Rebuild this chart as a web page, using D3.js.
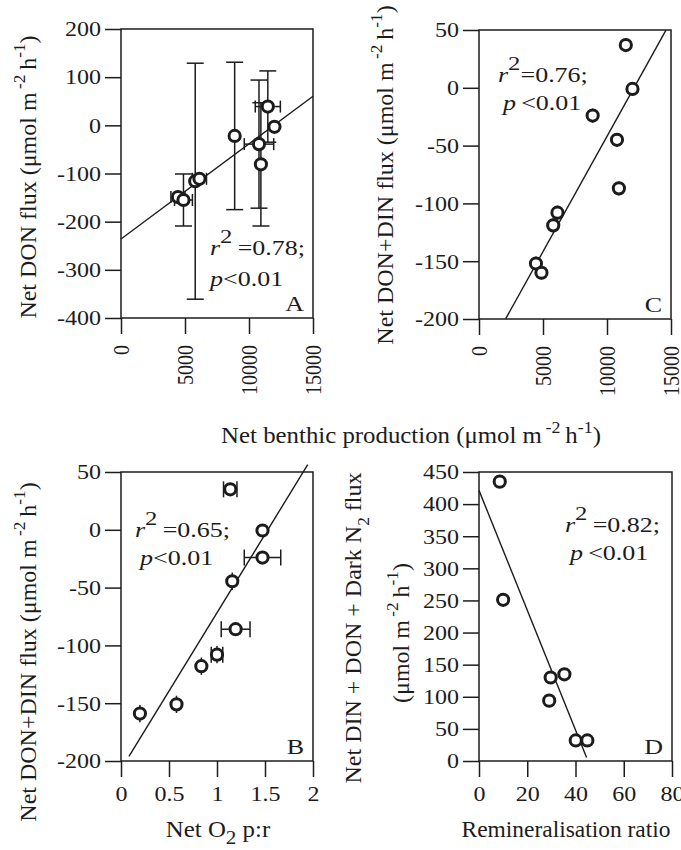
<!DOCTYPE html>
<html><head><meta charset="utf-8">
<script src="https://cdn.jsdelivr.net/npm/d3@7"></script>
<style>
body{margin:0;background:#fff}
svg{display:block}
text{font-family:"Liberation Serif","Times New Roman",Times,serif}
</style>
</head><body>
<svg id="c" width="681" height="850"></svg>
<script>
// ---------------- data ----------------
// shared x: net benthic production (umol m-2 h-1)
const prodX      = [4450, 4880, 5800, 6130, 8880, 10780, 10930, 11470, 11990];
const prodXErr   = [550, 700, 0, 550, 0, 1150, 0, 980, 0];
// panel A: net DON flux
const donFlux    = [-149, -155, -116, -111, -22, -39, -81, 39, -3];
const donFluxErr = [0, 54, 245, 0, 153, 133, 128, 74, 0];
// panel C: net DON+DIN flux
const donDinC    = [-152, -160, -119, -108, -24, -45, -87, 37, -1];
const donDinCErr = [6, 6, 6, 6, 6, 6, 6, 6, 6];
// panel B: net O2 p:r vs net DON+DIN flux
const o2PR       = [0.197, 0.578, 0.837, 1.0, 1.474, 1.159, 1.194, 1.138, 1.474];
const o2PRErr    = [0, 0, 0, 0.06, 0.19, 0, 0.15, 0.07, 0];
const donDinB    = [-159, -151, -118, -108, -24, -44.5, -86, 35, -0.6];
const donDinBErr = [7.5, 7.5, 7.5, 7.5, 0, 7.5, 0, 0, 0];
// panel D: remineralisation ratio vs net DIN + DON + dark N2 flux
const reminRatio = [8.6, 10.0, 29.7, 35.4, 29.1, 40.1, 44.9];
const dinDonN2   = [435, 251, 130, 135, 94, 32, 32];

// regression lines: [slope, intercept, xStart, xEnd]
const fitA = [0.01975, -236, 0, 15000];
const fitC = [0.01994, -241.4, 2091, 14608];
const fitB = [135.5, -207.2, 0.083, 1.945];
const fitD = [-9.33, 421.4, 0, 44.6];

// statistics text
const statsA = ["0.78", "0.01"];
const statsC = ["0.76", "0.01"];
const statsB = ["0.65", "0.01"];
const statsD = ["0.82", "0.01"];

// ticks
const prodTicks   = [0, 5000, 10000, 15000];
const donTicksA   = [200, 100, 0, -100, -200, -300, -400];
const donDinTicks = [50, 0, -50, -100, -150, -200];
const prTicks     = [0, 0.5, 1, 1.5, 2];
const reminTicks  = [0, 20, 40, 60, 80];
const n2Ticks     = [0, 50, 100, 150, 200, 250, 300, 350, 400, 450];

// ---------------- drawing ----------------
const svg = d3.select('#c');
const INK = '#1c1c1c';
const TICK = 16;
const SX_TICK = 1.2, SX_ANN = 1.3, SX_TITLE = 1.08;

function rich(parent, x, y, parts, o) {
  let tr = `translate(${x},${y})`;
  if (o.sx) tr += ` scale(${o.sx},1)`;
  if (o.rotate) tr += ` rotate(${o.rotate})`;
  const g = parent.append('g').attr('transform', tr);
  const t = g.append('text').attr('font-size', o.size).attr('fill', INK)
    .attr('text-anchor', o.anchor || 'start');
  let shift = 0;
  parts.forEach(p => {
    const ts = t.append('tspan').text(p.t);
    const target = p.sup ? -o.size * (p.up || 0.45) : p.sub ? o.size * 0.32 : 0;
    ts.attr('dy', target - shift);
    shift = target;
    if (p.italic) ts.attr('font-style', 'italic');
    if (p.sup || p.sub) ts.attr('font-size', o.size * (p.scale || 0.72));
  });
  return g;
}

function panel(o) {
  const g = svg.append('g').attr('transform', `translate(${o.left},${o.top})`);
  const x = d3.scaleLinear().domain(o.xDomain).range([0, o.w]);
  const y = d3.scaleLinear().domain(o.yDomain).range([o.h, 0]);

  const ya = g.append('g')
    .call(d3.axisLeft(y).tickValues(o.yTicks).tickSize(TICK).tickSizeOuter(0).tickFormat(d => String(d)));
  ya.attr('font-family', null).attr('font-size', null).style('color', INK);
  ya.select('.domain').remove();
  ya.selectAll('.tick line').attr('stroke-width', 1.5);
  ya.selectAll('.tick text').attr('x', 0).attr('dy', '0.34em').attr('font-size', 20)
    .attr('transform', `translate(${-(TICK + 4)},0) scale(${SX_TICK},1)`);

  const xa = g.append('g').attr('transform', `translate(0,${o.h})`)
    .call(d3.axisBottom(x).tickValues(o.xTicks).tickSize(TICK).tickSizeOuter(0).tickFormat(d => String(d)));
  xa.attr('font-family', null).attr('font-size', null).style('color', INK);
  xa.select('.domain').remove();
  xa.selectAll('.tick line').attr('stroke-width', 1.5);
  if (o.rotX) {
    xa.selectAll('.tick text').attr('x', 0).attr('y', 0).attr('dy', '0.32em')
      .attr('text-anchor', 'end').attr('font-size', 20)
      .attr('transform', `translate(0,${TICK + 11}) scale(${SX_TICK},1) rotate(-90)`);
  } else {
    xa.selectAll('.tick text').attr('y', 0).attr('dy', '0.71em').attr('font-size', 20)
      .attr('transform', `translate(0,${TICK + 10}) scale(${SX_TICK},1)`);
  }

  g.append('rect').attr('width', o.w).attr('height', o.h)
    .attr('fill', 'none').attr('stroke', INK).attr('stroke-width', 1.5);

  // regression line
  const f = o.fit;
  g.append('line')
    .attr('x1', x(f[2])).attr('y1', y(f[0] * f[2] + f[1]))
    .attr('x2', x(f[3])).attr('y2', y(f[0] * f[3] + f[1]))
    .attr('stroke', INK).attr('stroke-width', 1.4);

  // error bars
  const eb = g.append('g').attr('stroke', INK).attr('stroke-width', 1.5);
  o.xs.forEach((xv, i) => {
    const yv = o.ys[i];
    const ye = o.yErr ? o.yErr[i] : 0;
    const xe = o.xErr ? o.xErr[i] : 0;
    if (ye > 0) {
      eb.append('line').attr('x1', x(xv)).attr('x2', x(xv)).attr('y1', y(yv - ye)).attr('y2', y(yv + ye));
      if (o.capY) {
        [yv - ye, yv + ye].forEach(v => eb.append('line')
          .attr('x1', x(xv) - o.capY).attr('x2', x(xv) + o.capY).attr('y1', y(v)).attr('y2', y(v)));
      }
    }
    if (xe > 0) {
      eb.append('line').attr('y1', y(yv)).attr('y2', y(yv)).attr('x1', x(xv - xe)).attr('x2', x(xv + xe));
      [xv - xe, xv + xe].forEach(v => eb.append('line')
        .attr('y1', y(yv) - o.capX).attr('y2', y(yv) + o.capX).attr('x1', x(v)).attr('x2', x(v)));
    }
  });

  // points
  g.append('g').selectAll('circle').data(o.xs).join('circle')
    .attr('cx', d => x(d)).attr('cy', (d, i) => y(o.ys[i])).attr('r', 5.6)
    .attr('fill', '#fff').attr('stroke', INK).attr('stroke-width', 3);

  // stats text
  const s = o.stats;
  rich(svg, o.statPos[0], o.statPos[1], [
    {t: 'r', italic: true}, {t: '2', sup: true, scale: 0.95, up: 0.62}, {t: o.eqSpace ? '\u2009=' + s[0] + ';' : '=' + s[0] + ';'}
  ], {size: 20, sx: SX_ANN});
  rich(svg, o.statPos[2], o.statPos[3], [
    {t: 'p', italic: true}, {t: (o.pSpace ? '\u2009<' : '<') + s[1]}
  ], {size: 20, sx: SX_ANN});
  rich(svg, o.left + o.w - 9, o.top + o.h - 7, [{t: o.letter}], {size: 20, sx: SX_ANN, anchor: 'end'});
  return g;
}

panel({left: 121, top: 29, w: 192, h: 289, xDomain: [0, 15000], yDomain: [-400, 200],
  xTicks: prodTicks, yTicks: donTicksA, rotX: true, fit: fitA,
  xs: prodX, ys: donFlux, yErr: donFluxErr, xErr: prodXErr, capY: 8.5, capX: 6,
  stats: statsA, statPos: [210, 255, 210, 286], eqSpace: true, pSpace: false, letter: 'A'});

panel({left: 479, top: 30, w: 192, h: 289, xDomain: [0, 15000], yDomain: [-200, 50],
  xTicks: prodTicks, yTicks: donDinTicks, rotX: true, fit: fitC,
  xs: prodX, ys: donDinC, yErr: donDinCErr, xErr: null, capY: 0, capX: 6,
  stats: statsC, statPos: [498, 82, 503, 110], eqSpace: false, pSpace: true, letter: 'C'});

panel({left: 121, top: 472, w: 192, h: 289, xDomain: [0, 2], yDomain: [-200, 50],
  xTicks: prTicks, yTicks: donDinTicks, rotX: false, fit: fitB,
  xs: o2PR, ys: donDinB, yErr: donDinBErr, xErr: o2PRErr, capY: 0, capX: 8,
  stats: statsB, statPos: [135, 537, 140, 565], eqSpace: true, pSpace: false, letter: 'B'});

panel({left: 479, top: 472, w: 193, h: 289, xDomain: [0, 80], yDomain: [0, 450],
  xTicks: reminTicks, yTicks: n2Ticks, rotX: false, fit: fitD,
  xs: reminRatio, ys: dinDonN2, yErr: null, xErr: null, capY: 0, capX: 0,
  stats: statsD, statPos: [565, 532, 570, 560], eqSpace: true, pSpace: true, letter: 'D'});

// ---------------- axis titles ----------------
const unitParts = [
  {t: '(\u03bcmol m'}, {t: '\u2009-2', sup: true}, {t: '\u2009h'}, {t: '-1', sup: true}, {t: ')'}
];
rich(svg, 411, 443, [{t: 'Net benthic production '}].concat(unitParts),
  {size: 23, sx: SX_TITLE, anchor: 'middle'});
rich(svg, 36, 177, [{t: 'Net DON flux '}].concat(unitParts),
  {size: 24, rotate: -90, anchor: 'middle'});
rich(svg, 393, 175, [{t: 'Net DON+DIN flux '}].concat(unitParts),
  {size: 24, rotate: -90, anchor: 'middle'});
rich(svg, 36, 652, [{t: 'Net DON+DIN flux '}].concat(unitParts),
  {size: 24, rotate: -90, anchor: 'middle'});
rich(svg, 361, 628, [{t: 'Net DIN + DON + Dark N'}, {t: '2', sub: true}, {t: ' flux'}],
  {size: 24, rotate: -90, anchor: 'middle'});
rich(svg, 409, 633, unitParts, {size: 24, rotate: -90, anchor: 'middle'});
rich(svg, 218, 837, [{t: 'Net O'}, {t: '2', sub: true, scale: 0.85}, {t: ' p:r'}],
  {size: 23, sx: SX_TITLE, anchor: 'middle'});
rich(svg, 566, 837, [{t: 'Remineralisation ratio'}],
  {size: 23, sx: 1.02, anchor: 'middle'});
</script>
</body></html>
